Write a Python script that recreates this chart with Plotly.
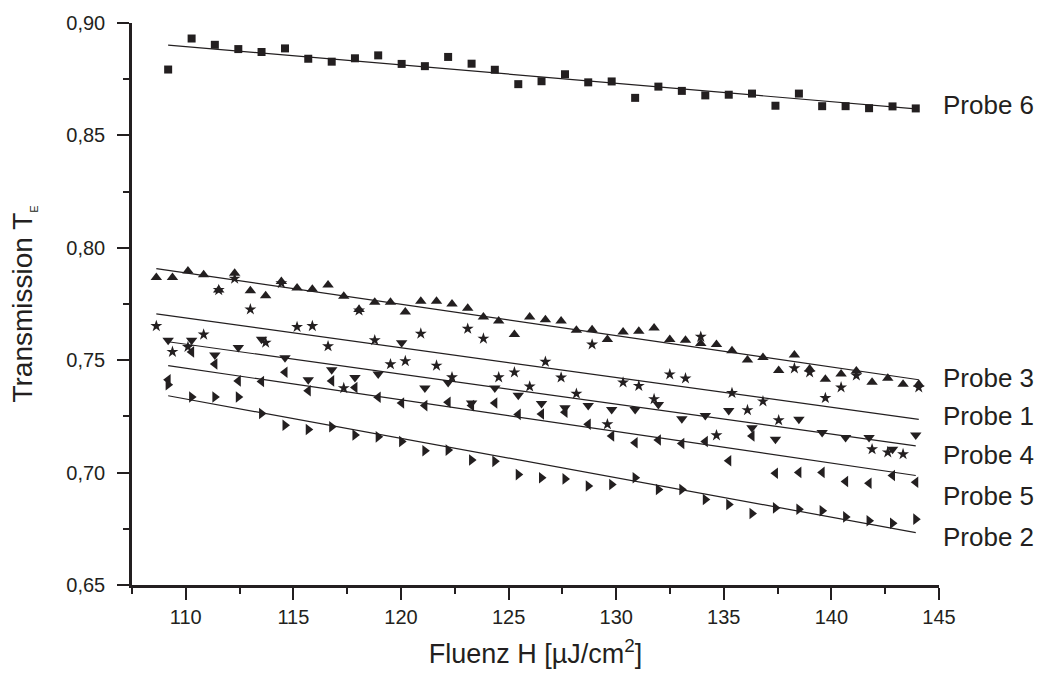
import plotly.graph_objects as go

# Fluence grids (µJ/cm²)
fluence_a = [109.18, 110.27, 111.35, 112.44, 113.52, 114.61, 115.69, 116.78, 117.86, 118.94,
             120.03, 121.11, 122.19, 123.28, 124.36, 125.45, 126.53, 127.62, 128.70, 129.79,
             130.88, 131.96, 133.05, 134.14, 135.23, 136.31, 137.40, 138.49, 139.57, 140.66,
             141.75, 142.84, 143.92]
fluence_b = [108.63, 109.38, 110.10, 110.83, 111.53, 112.27, 113.00, 113.71, 114.44, 115.17,
             115.88, 116.61, 117.34, 118.05, 118.78, 119.51, 120.20, 120.92, 121.65, 122.37,
             123.10, 123.83, 124.54, 125.27, 125.98, 126.71, 127.44, 128.15, 128.88, 129.59,
             130.32, 131.05, 131.76, 132.49, 133.22, 133.93, 134.66, 135.38, 136.10, 136.82,
             137.55, 138.28, 138.99, 139.72, 140.45, 141.16, 141.89, 142.62, 143.33, 144.06]

probe6 = [0.8793, 0.8931, 0.8903, 0.8884, 0.8871, 0.8887, 0.8841, 0.8828, 0.8843, 0.8856,
          0.8818, 0.8808, 0.8849, 0.8819, 0.8792, 0.8728, 0.8741, 0.8772, 0.8736, 0.8740,
          0.8667, 0.8717, 0.8698, 0.8678, 0.8681, 0.8686, 0.8632, 0.8686, 0.8630, 0.8630,
          0.8621, 0.8629, 0.8620]
probe3 = [0.7868, 0.7868, 0.7897, 0.7880, 0.7812, 0.7887, 0.7809, 0.7787, 0.7850, 0.7821,
          0.7816, 0.7834, 0.7784, 0.7726, 0.7758, 0.7758, 0.7714, 0.7762, 0.7762, 0.7750,
          0.7731, 0.7692, 0.7674, 0.7614, 0.7692, 0.7680, 0.7674, 0.7633, 0.7636, 0.7592,
          0.7626, 0.7629, 0.7643, 0.7592, 0.7589, 0.7574, 0.7570, 0.7542, 0.7501, 0.7512,
          0.7454, 0.7523, 0.7461, 0.7415, 0.7439, 0.7452, 0.7402, 0.7420, 0.7393, 0.7393]
probe1 = [0.7652, 0.7537, 0.7559, 0.7614, 0.7812, 0.7863, 0.7726, 0.7578, 0.7843, 0.7648,
          0.7652, 0.7562, 0.7376, 0.7721, 0.7589, 0.7482, 0.7496, 0.7618, 0.7476, 0.7424,
          0.7640, 0.7596, 0.7424, 0.7446, 0.7383, 0.7493, 0.7423, 0.7351, 0.7570, 0.7215,
          0.7401, 0.7386, 0.7327, 0.7437, 0.7419, 0.7604, 0.7166, 0.7354, 0.7278, 0.7317,
          0.7233, 0.7464, 0.7446, 0.7332, 0.7379, 0.7432, 0.7104, 0.7090, 0.7082, 0.7379]
probe4 = [0.7589, 0.7589, 0.7523, 0.7556, 0.7593, 0.7511, 0.7413, 0.7457, 0.7423, 0.7439,
          0.7578, 0.7376, 0.7401, 0.7310, 0.7376, 0.7344, 0.7307, 0.7288, 0.7298, 0.7281,
          0.7281, 0.7303, 0.7239, 0.7254, 0.7276, 0.7200, 0.7148, 0.7237, 0.7178, 0.7156,
          0.7156, 0.7104, 0.7167]
probe5 = [0.7413, 0.7537, 0.7483, 0.7408, 0.7405, 0.7446, 0.7364, 0.7408, 0.7379, 0.7335,
          0.7310, 0.7298, 0.7313, 0.7298, 0.7310, 0.7259, 0.7261, 0.7269, 0.7215, 0.7163,
          0.7133, 0.7145, 0.7129, 0.7138, 0.7053, 0.7163, 0.6997, 0.7001, 0.7001, 0.6960,
          0.6953, 0.6987, 0.6957]
probe2 = [0.7391, 0.7336, 0.7336, 0.7336, 0.7263, 0.7211, 0.7192, 0.7204, 0.7167, 0.7159,
          0.7138, 0.7097, 0.7100, 0.7056, 0.7050, 0.6991, 0.6977, 0.6972, 0.6940, 0.6947,
          0.6977, 0.6925, 0.6925, 0.6880, 0.6858, 0.6818, 0.6843, 0.6837, 0.6830, 0.6803,
          0.6786, 0.6775, 0.6793]

# Linear fit line end values (start at first fluence, end at last fluence)
series_names = ["Probe 6", "Probe 3", "Probe 1", "Probe 4", "Probe 5", "Probe 2"]
fit_start = [0.8902, 0.7907, 0.7706, 0.7582, 0.7476, 0.7342]
fit_end = [0.8618, 0.7413, 0.7237, 0.7119, 0.6987, 0.6733]
label_y = [0.8634, 0.7419, 0.7251, 0.7079, 0.6894, 0.6714]

series_x = [fluence_a, fluence_b, fluence_b, fluence_a, fluence_a, fluence_a]
series_y = [probe6, probe3, probe1, probe4, probe5, probe2]
symbols = ["square", "triangle-up", "star", "triangle-down", "triangle-left", "triangle-right"]
sizes = [8, 10, 9, 10, 10, 10]

ink = "#231f20"
fam = "Liberation Sans, Arial, sans-serif"
fig = go.Figure()
for xs, ys, sym, sz, f0, f1, nm in zip(series_x, series_y, symbols, sizes,
                                        fit_start, fit_end, series_names):
    fig.add_trace(go.Scatter(x=[xs[0], xs[-1]], y=[f0, f1], mode="lines",
                             line=dict(color=ink, width=1.2), showlegend=False,
                             hoverinfo="skip"))
    fig.add_trace(go.Scatter(x=xs, y=ys, mode="markers", name=nm,
                             marker=dict(symbol=sym, size=sz, color=ink,
                                         line=dict(width=0)),
                             showlegend=False))

for nm, ly in zip(series_names, label_y):
    fig.add_annotation(x=145, y=ly, xref="x", yref="y", text=nm, showarrow=False,
                       xanchor="left", yanchor="middle", xshift=2,
                       font=dict(family=fam, size=26, color=ink))

fig.update_layout(
    width=1046, height=688,
    margin=dict(l=132, r=107, t=18, b=103),
    paper_bgcolor="white", plot_bgcolor="white",
    separators=",.",
    showlegend=False,
    font=dict(family=fam, color=ink),
)
fig.update_xaxes(
    range=[107.5, 145], tick0=110, dtick=5, ticks="outside", ticklen=12, tickwidth=2,
    tickcolor=ink, showline=True, linewidth=2.5, linecolor=ink, showgrid=False, zeroline=False,
    tickfont=dict(family=fam, size=20, color=ink),
    minor=dict(dtick=2.5, tick0=107.5, ticks="outside", ticklen=6, tickwidth=2, tickcolor=ink),
    title=dict(text="Fluenz H [µJ/cm<sup>2</sup>]", standoff=18,
               font=dict(family=fam, size=27, color=ink)),
)
fig.update_yaxes(
    range=[0.65, 0.90], tick0=0.65, dtick=0.05, tickformat=".2f", ticks="outside", ticklen=12,
    tickwidth=2, tickcolor=ink, showline=True, linewidth=2.5, linecolor=ink, showgrid=False,
    zeroline=False, ticklabelstandoff=8,
    tickfont=dict(family=fam, size=20, color=ink),
    minor=dict(dtick=0.025, tick0=0.65, ticks="outside", ticklen=6, tickwidth=2, tickcolor=ink),
    title=dict(text="Transmission T<sub><span style='font-size:11px'>E</span></sub>", standoff=26,
               font=dict(family=fam, size=28, color=ink)),
)

fig.write_html("out.html")
